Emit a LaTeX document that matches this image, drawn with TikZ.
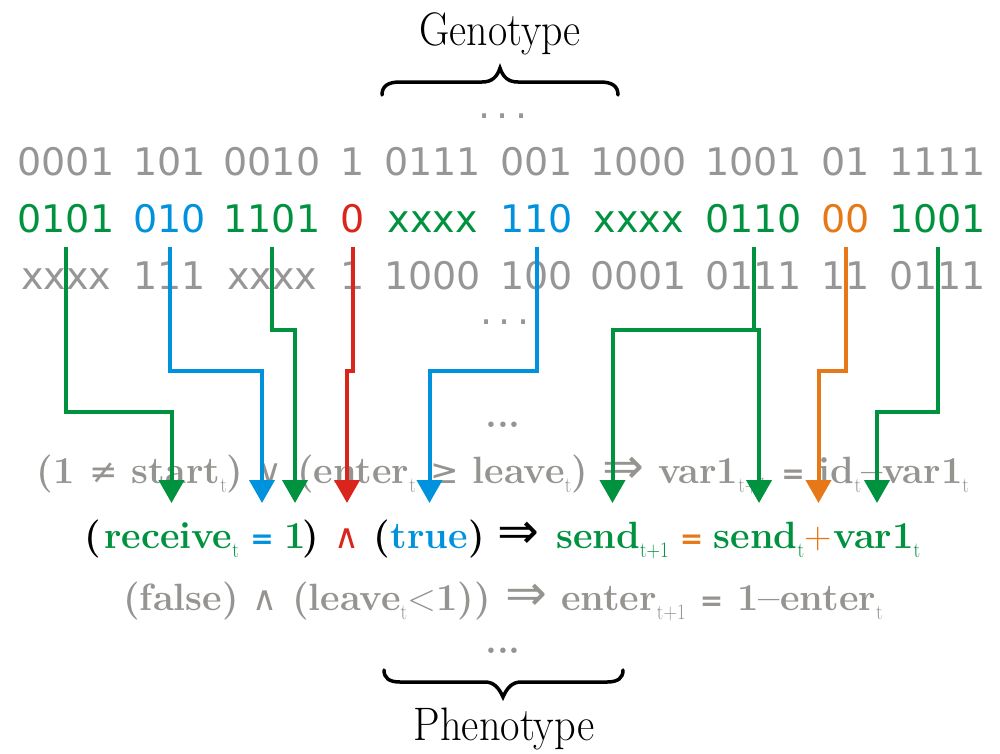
\documentclass[tikz,border=0pt]{standalone}
\usepackage{fontspec}
\usepackage{graphicx}
\usetikzlibrary{arrows.meta}
\newfontfamily\bitsfont{DejaVu Sans}
\newfontfamily\symfont{DejaVu Sans}
\definecolor{ggray}{RGB}{150,150,150}
\definecolor{fgray}{RGB}{150,148,145}
\definecolor{ggreen}{RGB}{0,146,63}
\definecolor{gblue}{RGB}{0,146,221}
\definecolor{gred}{RGB}{218,37,29}
\definecolor{gorange}{RGB}{231,120,23}
\newcommand\sbt[1]{\raisebox{-9pt}{\fontsize{22}{22}\selectfont\mdseries\scalebox{0.85}[1]{#1}}}
\newcommand\formfont{\fontsize{38}{40}\selectfont\bfseries}
\newcommand\eqsym{{\bitsfont\bfseries\fontsize{28}{28}\selectfont=}}
\newcommand\sym[1]{{\symfont\mdseries\fontsize{34}{34}\selectfont #1}}
\newcommand\impl{{\symfont\mdseries\fontsize{50}{50}\selectfont ⇒}}
\begin{document}
\begin{tikzpicture}[x=1pt,y=-1pt,
  bit/.style={font=\bitsfont\fontsize{38}{40}\selectfont, inner sep=0pt, anchor=base},
  form/.style={font=\formfont, inner sep=0pt, outer sep=0pt, anchor=base},
  line/.style={font=\formfont, inner sep=0pt, anchor=base, text=fgray},
  title/.style={font=\fontsize{47}{50}\selectfont, inner sep=0pt, anchor=base},
  conn/.style={line width=4pt, -{Triangle[width=25pt,length=23pt]}},
  brace/.style={line width=3.5pt, line cap=round}]
\useasboundingbox (0,0) rectangle (1000,753);
% titles
\node[title] (geno) at (500,45) {\scalebox{0.89}[1]{Genotype}};
\node[title] (pheno) at (504,740) {\scalebox{0.9}[1]{Phenotype}};
% braces
\draw[brace] (382,95) .. controls (382,86) and (388,82) .. (400,82) -- (482,82)
  .. controls (492,82) and (497,77) .. (500,68)
  .. controls (503,77) and (508,82) .. (518,82) -- (600,82)
  .. controls (612,82) and (618,86) .. (618,95);
\draw[brace] (384,670) .. controls (384,678) and (389,682) .. (400,682) -- (485,682)
  .. controls (494,682) and (499,688) .. (503,697)
  .. controls (507,688) and (512,682) .. (521,682) -- (607,682)
  .. controls (618,682) and (623,678) .. (623,670);
% dots
\node[bit, text=ggray] (d1) at (503,118) {.\,.\,.};
\node[bit, text=ggray] (d2) at (505,324) {.\,.\,.};
\node[line] (d3) at (503,427) {...};
\node[line] (d4) at (503,653) {...};
% row 1
\foreach \n/\x/\t in {1/66/0001,2/169.5/101,3/272/0010,4/353/1,5/432.5/0111,6/536.5/001,7/638.5/1000,8/753.5/1001,9/845.5/01,10/937.5/1111}
  \node[bit, text=ggray] (a\n) at (\x,175) {\t};
% row 2
\node[bit, text=ggreen] (g1) at (66,232) {0101};
\node[bit, text=gblue] (g2) at (169.5,232) {010};
\node[bit, text=ggreen] (g3) at (272,232) {1101};
\node[bit, text=gred] (g4) at (353,232) {0};
\node[bit, text=ggreen] (g5) at (432.5,232) {xxxx};
\node[bit, text=gblue] (g6) at (536.5,232) {110};
\node[bit, text=ggreen] (g7) at (638.5,232) {xxxx};
\node[bit, text=ggreen] (g8) at (753.5,232) {0110};
\node[bit, text=gorange] (g9) at (845.5,232) {00};
\node[bit, text=ggreen] (g10) at (937.5,232) {1001};
% row 3
\foreach \n/\x/\t in {1/66/xxxx,2/169.5/111,3/272/xxxx,4/353/1,5/432.5/1000,6/536.5/100,7/638.5/0001,8/753.5/0111,9/845.5/11,10/937.5/0111}
  \node[bit, text=ggray] (c\n) at (\x,289) {\t};
% formula lines
\node[line] (l1) at (503,483) {(1 \sym{≠} start\sbt{t}) \sym{∨} (enter\sbt{t} \sym{≥} leave\sbt{t}) \impl{} var1\sbt{t+1} \eqsym{} id\sbt{t}--var1\sbt{t}};
\node[line] (l3) at (503,610) {(false) \sym{∧} (leave\sbt{t}{\mdseries<}1)) \impl{} enter\sbt{t+1} \eqsym{} 1--enter\sbt{t}};
% line 2 tokens
\node[form] (p1) at (93,548) {(};
\node[form, text=ggreen] (recv) at (171.5,548) {receive\sbt{t}};
\node[form, text=gblue] (eqA) at (262,548) {\eqsym};
\node[form, text=ggreen] (one) at (295,548) {1};
\node[form] (p2) at (311,548) {)};
\node[form, text=gred] (andA) at (347,548) {\sym{∧}};
\node[form] (p3) at (382,548) {(};
\node[form, text=gblue] (tru) at (429.5,548) {true};
\node[form] (p4) at (477,548) {)};
\node[form] (imp) at (518,548) {\impl};
\node[form, text=ggreen] (snd1) at (612.5,548) {send\sbt{t+1}};
\node[form, text=gorange] (eqB) at (691.5,548) {\eqsym};
\node[form, text=ggreen] (snd2) at (759,548) {send\sbt{t}};
\node[form, text=gorange] (plus) at (818.5,548) {\mdseries+};
\node[form, text=ggreen] (var) at (877,548) {var1\sbt{t}};
% levels
\coordinate (top) at (0,247);
\coordinate (L1) at (0,330);
\coordinate (L2) at (0,371);
\coordinate (L3) at (0,412);
\coordinate (tip) at (0,503);
% connectors
\draw[conn, ggreen] (g1 |- top) -- (g1 |- L3) -| (recv |- tip);
\draw[conn, gblue] (g2 |- top) -- (g2 |- L2) -| (eqA |- tip);
\draw[conn, ggreen] (g3 |- top) -- (g3 |- L1) -| (one |- tip);
\draw[conn, gred] (g4 |- top) -- (g4 |- L2) -| (andA |- tip);
\draw[conn, gblue] (g6 |- top) -- (g6 |- L2) -| (tru |- tip);
\draw[conn, ggreen] (g8 |- top) -- (g8 |- L1) coordinate (br) -| (snd1 |- tip);
\draw[conn, ggreen] (br) -| (snd2 |- tip);
\draw[conn, gorange] (g9 |- top) -- (g9 |- L2) -| (plus |- tip);
\draw[conn, ggreen] (g10 |- top) -- (g10 |- L3) -| (var |- tip);
\end{tikzpicture}
\end{document}
